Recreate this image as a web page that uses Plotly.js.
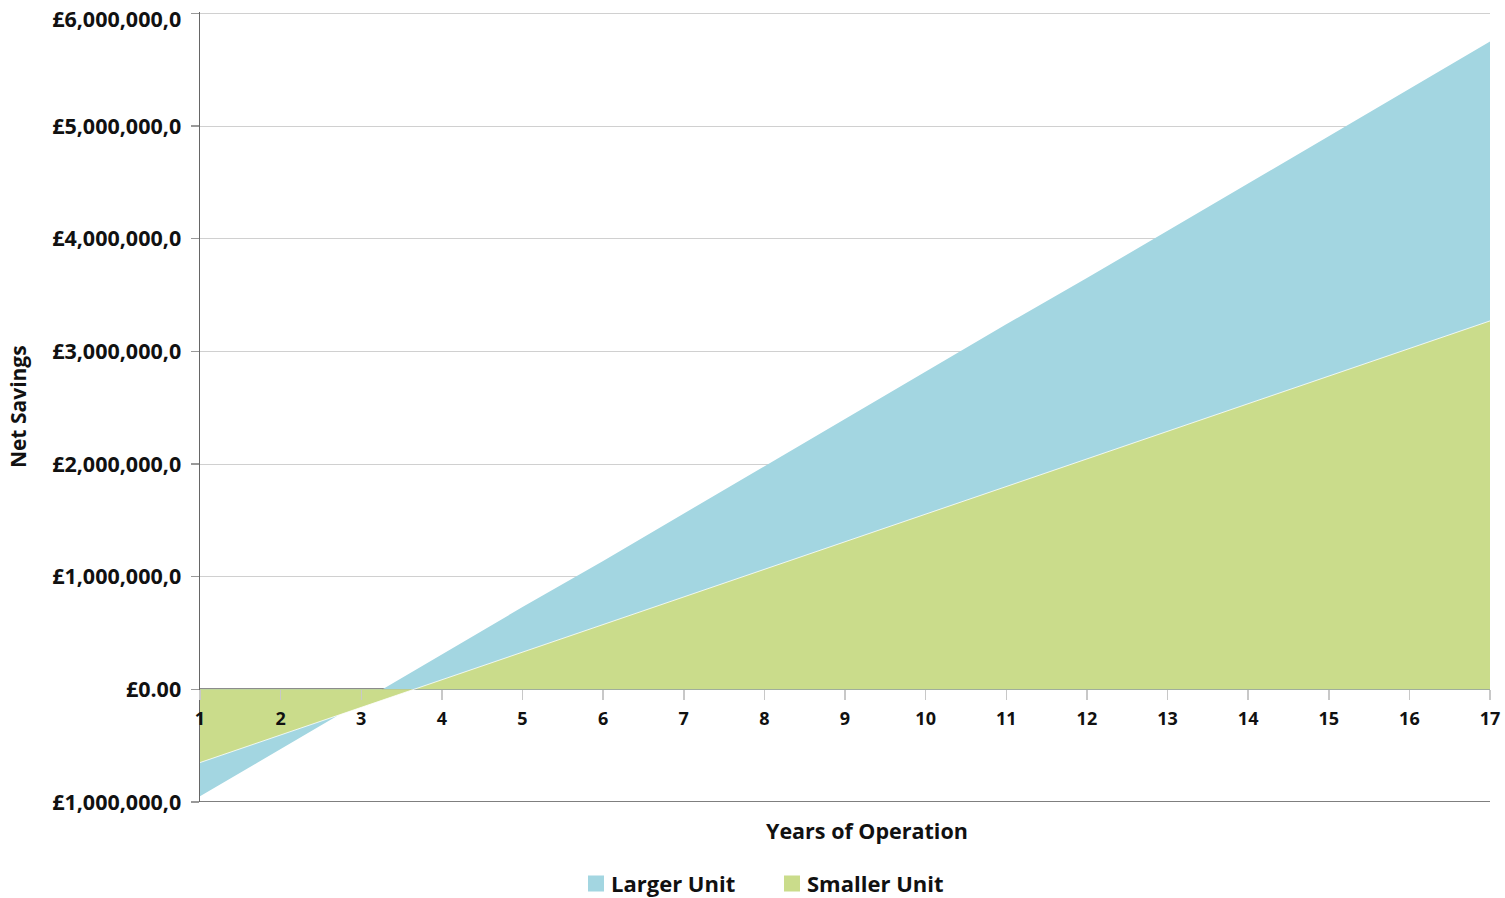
<!DOCTYPE html>
<html>
<head>
<meta charset="utf-8">
<script src="https://cdn.plot.ly/plotly-3.0.1.min.js"></script>
<style>html,body{margin:0;padding:0;background:#fff;}#chart{width:1505px;height:898px;}</style>
</head>
<body>
<div id="chart"></div>
<script>
const years = [1,2,3,4,5,6,7,8,9,10,11,12,13,14,15,16,17];
const largerUnit = [-950000,-530000,-110000,310000,730000,1140000,1560000,1980000,2400000,2820000,3240000,3650000,4070000,4490000,4910000,5330000,5750000];
const smallerUnit = [-650000,-405000,-160000,85000,330000,575000,820000,1065000,1310000,1555000,1800000,2045000,2290000,2535000,2780000,3025000,3270000];
const yTickVals = [-1000000,0,1000000,2000000,3000000,4000000,5000000,6000000];
const yTickText = ['£1,000,000,0','£0.00','£1,000,000,0','£2,000,000,0','£3,000,000,0','£4,000,000,0','£5,000,000,0','£6,000,000,0'];
const seriesNames = ['Larger Unit','Smaller Unit'];
const seriesColors = ['#A3D6E1','#CADC8B'];

const FONT = '"Open Sans", sans-serif';
const traces = [
  {x: years, y: largerUnit, name: seriesNames[0], type: 'scatter', mode: 'lines', fill: 'tozeroy',
   fillcolor: seriesColors[0], line: {width: 0, color: seriesColors[0]}, showlegend: false},
  {x: years, y: smallerUnit, name: seriesNames[1], type: 'scatter', mode: 'lines', fill: 'tozeroy',
   fillcolor: seriesColors[1], line: {width: 0.8, color: '#ffffff'}, showlegend: false},
  // legend-only entries (square swatches)
  {x: [null], y: [null], name: seriesNames[0], type: 'scatter', mode: 'markers',
   marker: {symbol: 'square', size: 17, color: seriesColors[0]}, showlegend: true},
  {x: [null], y: [null], name: seriesNames[1], type: 'scatter', mode: 'markers',
   marker: {symbol: 'square', size: 17, color: seriesColors[1]}, showlegend: true}
];

const layout = {
  width: 1505, height: 898,
  margin: {l: 200, r: 15, t: 12, b: 96},
  paper_bgcolor: '#fff', plot_bgcolor: '#fff',
  font: {family: FONT, color: '#111', weight: 700},
  showlegend: true,
  legend: {orientation: 'h', xref: 'container', yref: 'container', x: 0.4, xanchor: 'left', y: 0.016, yanchor: 'middle',
           font: {family: FONT, size: 22, color: '#111', weight: 700}, itemwidth: 30, traceorder: 'normal',
           entrywidth: 151, entrywidthmode: 'pixels'},
  xaxis: {
    range: [1, 17], anchor: 'free', position: 1/7,
    tickvals: years, ticktext: years.map(String),
    ticks: 'outside', ticklen: 10, tickcolor: '#c8c8c8', tickwidth: 1.5,
    ticklabelstandoff: 3,
    showgrid: false, zeroline: false, showline: false,
    tickfont: {family: FONT, size: 18, color: '#111', weight: 700},
    fixedrange: true
  },
  yaxis: {
    range: [-1000000, 6012000],
    tickvals: yTickVals, ticktext: yTickText,
    ticks: 'outside', ticklen: 8, tickcolor: '#999', tickwidth: 1.5,
    ticklabelstandoff: 5, ticklabeloverflow: 'allow',
    showgrid: true, gridcolor: '#d0d0d0', gridwidth: 1,
    zeroline: true, zerolinecolor: '#8c8c8c', zerolinewidth: 2,
    showline: true, linecolor: '#666', linewidth: 1.5,
    tickfont: {family: FONT, size: 21.5, color: '#111', weight: 700},
    fixedrange: true
  },
  shapes: [
    {type: 'line', xref: 'paper', yref: 'y', x0: 0, x1: 1, y0: -1000000, y1: -1000000,
     line: {color: '#555', width: 1.5}, layer: 'above'}
  ],
  annotations: [
    {text: 'Years of Operation', xref: 'paper', yref: 'paper', x: 0.517, y: -0.0355, xanchor: 'center', yanchor: 'middle',
     showarrow: false, font: {family: FONT, size: 21.5, color: '#111', weight: 700}},
    {text: 'Net Savings', xref: 'paper', yref: 'paper', x: -0.141, y: 0.5, xanchor: 'center', yanchor: 'middle',
     textangle: -90, showarrow: false, font: {family: FONT, size: 21, color: '#111', weight: 700}}
  ]
};

Plotly.newPlot('chart', traces, layout, {displayModeBar: false, staticPlot: true}).then(function(gd){
  // top tick label sits a little lower than its gridline (as in the reference), so it is not cut off
  gd.querySelectorAll('.ytick text').forEach(function(t){
    if (t.textContent === yTickText[yTickText.length - 1]) {
      const tr = t.getAttribute('transform') || '';
      t.setAttribute('transform', tr + ' translate(0,6)');
    }
  });
  const lg = gd.querySelector('.legend');
  if (!lg) return;
  // nudge swatches closer to their labels
  lg.querySelectorAll('.legendpoints').forEach(function(p){
    const t = p.getAttribute('transform') || '';
    p.setAttribute('transform', t + ' translate(5,0)');
  });
  // place first swatch at the reference position
  const sw = lg.querySelector('.legendpoints path');
  if (!sw) return;
  const r = sw.getBoundingClientRect();
  const tr = lg.getAttribute('transform') || '';
  const m = /translate\(([-\d.]+)[ ,]+([-\d.]+)\)/.exec(tr);
  if (m) {
    const dx = 588 - r.left;
    lg.setAttribute('transform', 'translate(' + (parseFloat(m[1]) + dx) + ',' + m[2] + ')');
  }
});
</script>
</body>
</html>
